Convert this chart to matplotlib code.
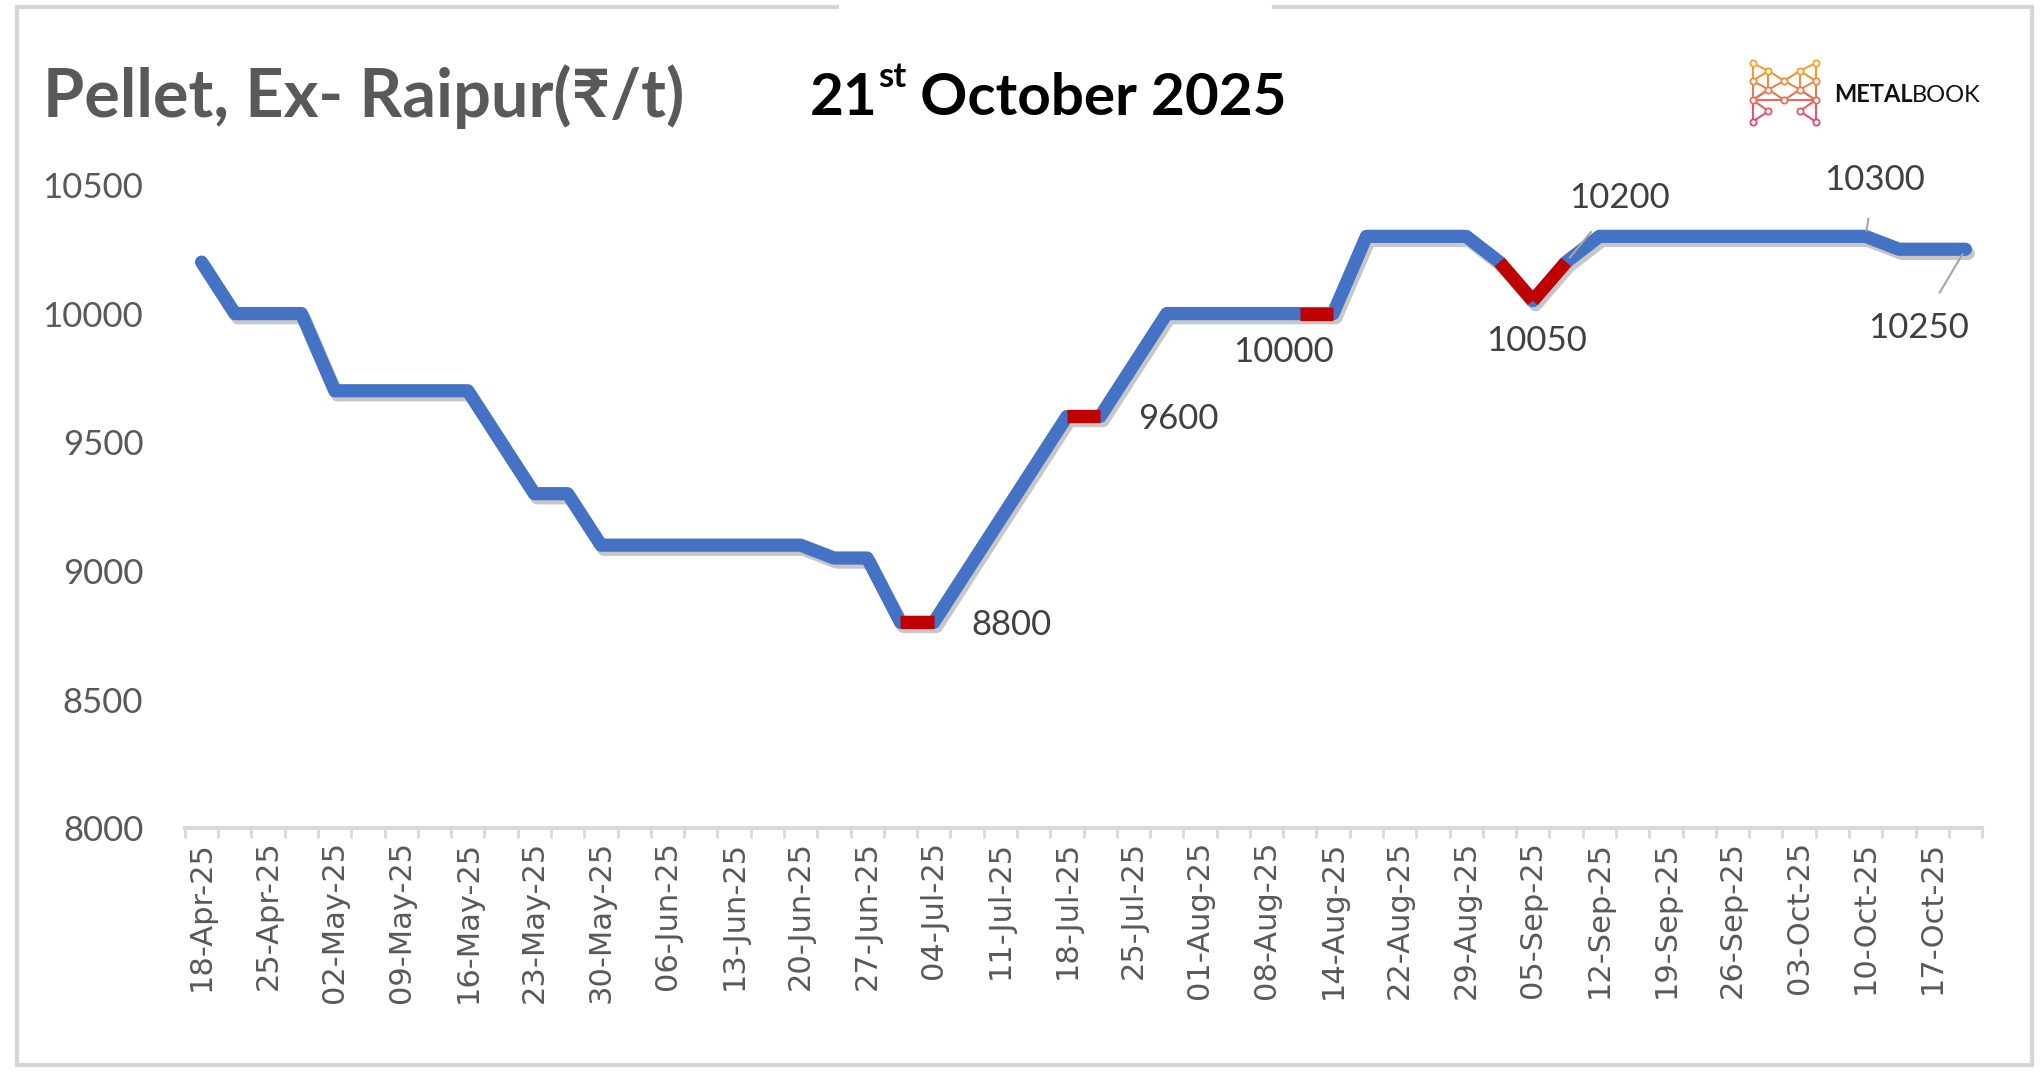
import matplotlib
matplotlib.use("Agg")
import matplotlib.pyplot as plt
import matplotlib.patheffects as pe
from matplotlib.lines import Line2D

# tick labels shown on the axis (every second category)
tick_labels = ["18-Apr-25", "25-Apr-25", "02-May-25", "09-May-25", "16-May-25",
               "23-May-25", "30-May-25", "06-Jun-25", "13-Jun-25", "20-Jun-25",
               "27-Jun-25", "04-Jul-25", "11-Jul-25", "18-Jul-25", "25-Jul-25",
               "01-Aug-25", "08-Aug-25", "14-Aug-25", "22-Aug-25", "29-Aug-25",
               "05-Sep-25", "12-Sep-25", "19-Sep-25", "26-Sep-25", "03-Oct-25",
               "10-Oct-25", "17-Oct-25"]

# pellet price, Rs/t, one value per category
prices = [10200, 10000, 10000, 10000, 9700, 9700, 9700, 9700, 9700, 9500,
          9300, 9300, 9100, 9100, 9100, 9100, 9100, 9100, 9100, 9050,
          9050, 8800, 8800, 9000, 9200, 9400, 9600, 9600, 9800, 10000,
          10000, 10000, 10000, 10000, 10000, 10300, 10300, 10300, 10300, 10200,
          10050, 10200, 10300, 10300, 10300, 10300, 10300, 10300, 10300, 10300,
          10300, 10250, 10250, 10250]

# segments drawn in red (start index of segment)
red_segments = [21, 26, 33, 39, 40]

# points that carry a data label
label_points = [22, 27, 33, 40, 41, 50, 53]

BLUE = "#4472C4"
RED = "#C00000"
GREY = "#595959"
AXIS = "#D9D9D9"

W, H = 2042, 1073
fig = plt.figure(figsize=(W / 100, H / 100), dpi=100)
fig.patch.set_facecolor("white")

# outer frame (top edge has a gap)
def fline(x0, y0, x1, y1):
    fig.add_artist(Line2D([x0 / 1568, x1 / 1568], [1 - y0 / 824, 1 - y1 / 824],
                          transform=fig.transFigure, color="#D6D6D6", lw=3))

fline(13, 5, 643, 5)
fline(978, 5, 1560, 5)
fline(13, 5, 13, 818)
fline(1560, 5, 1560, 818)
fline(13, 818, 1560, 818)

ax = fig.add_axes([142 / 1568, 1 - 636 / 824, (1522 - 142) / 1568, (636 - 142) / 824])
x = list(range(len(prices)))

shadow = [pe.SimpleLineShadow(offset=(2, -3), shadow_color="black", alpha=0.22), pe.Normal()]
ax.plot(x, prices, color=BLUE, lw=9.5, solid_capstyle="round", solid_joinstyle="round",
        path_effects=shadow, zorder=3)
for s in red_segments:
    ax.plot([s, s + 1], [prices[s], prices[s + 1]], color=RED, lw=9.5,
            solid_capstyle="butt", solid_joinstyle="round", zorder=4)

ax.set_xlim(-0.5, len(prices) - 0.5)
ax.set_ylim(8000, 10500)
ax.set_yticks([8000, 8500, 9000, 9500, 10000, 10500])
ax.set_xticks(range(0, len(prices), 2))
ax.set_xticklabels(tick_labels, rotation=90, fontsize=22, color=GREY, family="DejaVu Sans")
ax.set_xticks([i - 0.5 for i in range(len(prices) + 1)], minor=True)
ax.tick_params(axis="x", which="major", length=0, pad=9)
ax.tick_params(axis="x", which="minor", length=7, width=2, color=AXIS)
ax.tick_params(axis="y", length=0, pad=30, labelsize=25, labelcolor=GREY)
for t in ax.get_yticklabels():
    t.set_family(["Lato", "DejaVu Sans"])
for side in ["left", "right", "top"]:
    ax.spines[side].set_visible(False)
ax.spines["bottom"].set_color(AXIS)
ax.spines["bottom"].set_linewidth(3)

# data labels (offsets in pixels)
offsets = {22: (78, -3), 27: (78, -3), 33: (-16, -38), 40: (4, -40),
           41: (53, 64), 50: (9, 56), 53: (-47, -79)}
leaders = {41, 50, 53}
for i in label_points:
    dx, dy = offsets[i]
    ap = None
    if i in leaders:
        ap = dict(arrowstyle="-", color="#A6A6A6", lw=1.5, shrinkA=14, shrinkB=4)
    ax.annotate(str(prices[i]), (i, prices[i]), xytext=(dx, dy), textcoords="offset pixels",
                ha="center", va="center", fontsize=25, color="#404040",
                family=["Lato", "DejaVu Sans"], arrowprops=ap, zorder=5)

# titles
fig.text(33 / 1568, 1 - 90 / 824, "Pellet, Ex- Raipur(\u20b9/t)", fontsize=48, fontweight="bold",
         color=GREY, family=["Lato", "Noto Sans", "DejaVu Sans"], va="baseline")

fig.canvas.draw()
r = fig.canvas.get_renderer()
x0 = 622 / 1568
yb = 1 - 88 / 824
t1 = fig.text(x0, yb, "21", fontsize=42, fontweight="bold", color="black",
              family="Lato", va="baseline")
bb = t1.get_window_extent(r)
t2 = fig.text(bb.x1 / W, yb + 0.026, "st", fontsize=25, fontweight="bold",
              color="black", family="Lato", va="baseline")
bb2 = t2.get_window_extent(r)
fig.text(bb2.x1 / W, yb, " October 2025", fontsize=42, fontweight="bold", color="black",
         family="Lato", va="baseline")

# logo
lax = fig.add_axes([1342 / 1568, 1 - 97 / 824, 56 / 1568, 52 / 824])
lax.set_xlim(-0.08, 1.08)
lax.set_ylim(-0.08, 1.08)
lax.axis("off")
nodes = {"a": (0, 1), "b": (0, 0.7), "c": (0, 0.37), "d": (0, 0),
         "e": (1, 1), "f": (1, 0.7), "g": (1, 0.37), "h": (1, 0),
         "i": (0.25, 0.87), "j": (0.75, 0.87), "k": (0.5, 0.7),
         "l": (0.25, 0.55), "m": (0.75, 0.55), "n": (0.5, 0.37),
         "o": (0.25, 0.18), "p": (0.75, 0.18)}
edges = ["ab", "bc", "cd", "ef", "fg", "gh", "ai", "ej", "ik", "jk", "bi", "fj",
         "bl", "fm", "il", "jm", "lk", "mk", "ln", "mn", "cl", "gm", "co", "gp",
         "do", "hp", "cn", "gn", "lc", "mg"]

def col(y):
    c0 = (0.96, 0.66, 0.15)
    c1 = (0.88, 0.27, 0.48)
    return tuple(c1[k] + (c0[k] - c1[k]) * y for k in range(3))

for e in edges:
    (xa, ya), (xb, yb2) = nodes[e[0]], nodes[e[1]]
    lax.plot([xa, xb], [ya, yb2], color=col((ya + yb2) / 2), lw=1.5)
for (xn, yn) in nodes.values():
    lax.plot(xn, yn, "o", ms=4.5, mfc="white", mec=col(yn), mew=1.3)

lt = fig.text(1408 / 1568, 1 - 78 / 824, "METAL", fontsize=17, fontweight="bold",
              color="#111111", family="Lato", va="baseline")
lb = lt.get_window_extent(r)
fig.text(lb.x1 / W, 1 - 78 / 824, "BOOK", fontsize=17, color="#111111",
         family="Lato", va="baseline")

fig.savefig("out.png", dpi=100)
